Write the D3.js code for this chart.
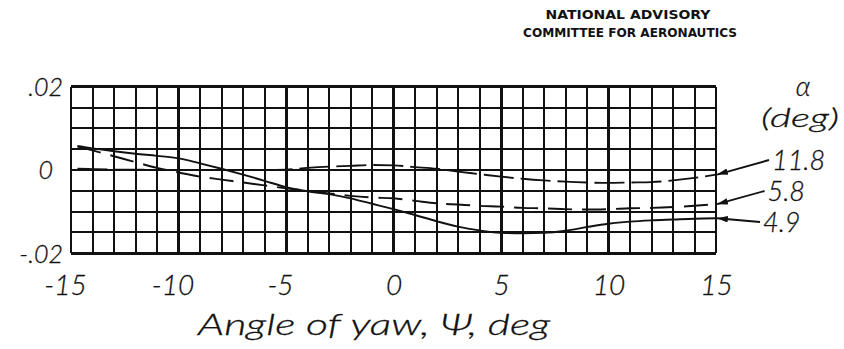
<!DOCTYPE html>
<html>
<head>
<meta charset="utf-8">
<script src="https://cdn.jsdelivr.net/npm/d3@7"></script>
<style>
  html, body { margin: 0; padding: 0; background: #fff; }
  svg { display: block; }
  .hand { font-family: Lato, "Open Sans", "DejaVu Sans", sans-serif; font-style: italic; font-weight: 300;
          fill: #111; stroke: #111; stroke-width: 0.3px; }
  .stamp { font-family: "DejaVu Sans", sans-serif; font-weight: bold; fill: #111; }
</style>
</head>
<body>
<svg id="chart" width="844" height="349"></svg>
<script>
// Yawing-moment-type coefficient against angle of yaw, for three angles of attack
const yawAngles = [-14.7, -14, -13, -12, -11, -10, -9, -8, -7, -6, -5, -4, -3, -2, -1, 0,
                   1, 2, 3, 4, 5, 6, 7, 8, 9, 10, 11, 12, 13, 14, 15];

const alphaLabels = ["11.8", "5.8", "4.9"];

const coefAlpha11_8 = [0.0003, 0.0002, 0.0001, 0.0001, 0.0000, 0.0000, 0.0000, 0.0000, 0.0000, 0.0000, 0.0001,
                       0.0005, 0.0008, 0.0010, 0.0012, 0.0011, 0.0007, 0.0003, -0.0004, -0.0010, -0.0016,
                       -0.0021, -0.0025, -0.0028, -0.0030, -0.0031, -0.0030, -0.0029, -0.0025, -0.0019, -0.0011];

const coefAlpha5_8 = [0.0056, 0.0047, 0.0033, 0.0019, 0.0005, -0.0006, -0.0016, -0.0023, -0.0030, -0.0037, -0.0044,
                      -0.0050, -0.0056, -0.0062, -0.0066, -0.0068, -0.0074, -0.0080, -0.0083, -0.0086, -0.0088,
                      -0.0091, -0.0092, -0.0094, -0.0095, -0.0094, -0.0092, -0.0091, -0.0089, -0.0086, -0.0082];

const coefAlpha4_9 = [0.0058, 0.0052, 0.0045, 0.0039, 0.0034, 0.0028, 0.0016, 0.0003, -0.0011, -0.0026, -0.0041,
                      -0.0051, -0.0058, -0.0068, -0.0081, -0.0094, -0.0108, -0.0123, -0.0136, -0.0145, -0.0151,
                      -0.0152, -0.0151, -0.0146, -0.0137, -0.0129, -0.0124, -0.0121, -0.0119, -0.0117, -0.0116];

const xTickValues = [-15, -10, -5, 0, 5, 10, 15];
const xTickLabels = ["-15", "-10", "-5", "0", "5", "10", "15"];
const yTickValues = [0.02, 0, -0.02];
const yTickLabels = [".02", "0", "-.02"];

const xTitle = "Angle of yaw, \u03A8, deg";
const legendTitle = ["\u03B1", "(deg)"];
const stampLines = ["NATIONAL ADVISORY", "COMMITTEE FOR AERONAUTICS"];

const svg = d3.select("#chart");
const plot = { left: 71, right: 716, top: 86.7, bottom: 253.3 };

const x = d3.scaleLinear().domain([-15, 15]).range([plot.left, plot.right]);
const y = d3.scaleLinear().domain([-0.02, 0.02]).range([plot.bottom, plot.top]);

// Graph-paper grid: one line per degree, one per 0.005; heavier every 5 degrees
const grid = svg.append("g").attr("stroke", "#111").attr("shape-rendering", "crispEdges");
grid.selectAll("line.v").data(d3.range(-15, 16)).join("line")
  .attr("class", "v")
  .attr("x1", d => x(d)).attr("x2", d => x(d))
  .attr("y1", plot.top).attr("y2", plot.bottom)
  .attr("stroke-width", d => (Math.abs(d) === 15 ? 2.5 : d % 5 === 0 ? 3 : 2));
grid.selectAll("line.h").data(d3.range(-4, 5).map(i => i * 0.005)).join("line")
  .attr("class", "h")
  .attr("x1", plot.left).attr("x2", plot.right)
  .attr("y1", d => y(d)).attr("y2", d => y(d))
  .attr("stroke-width", d => (Math.abs(d) > 0.019 ? 2.5 : 2));

// Curves
const series = [
  { label: alphaLabels[0], values: coefAlpha11_8, dash: "30,7" },
  { label: alphaLabels[1], values: coefAlpha5_8, dash: "24,10" },
  { label: alphaLabels[2], values: coefAlpha4_9, dash: null }
];
const line = d3.line().x(d => x(d[0])).y(d => y(d[1])).curve(d3.curveMonotoneX);
svg.append("g").selectAll("path").data(series).join("path")
  .attr("d", s => line(yawAngles.map((a, i) => [a, s.values[i]])))
  .attr("fill", "none")
  .attr("stroke", "#111")
  .attr("stroke-width", 1.9)
  .attr("stroke-dasharray", s => s.dash);

// Axes
const xAxis = svg.append("g")
  .attr("transform", `translate(0,${plot.bottom})`)
  .call(d3.axisBottom(x).tickValues(xTickValues).tickSize(0).tickPadding(0)
    .tickFormat((d, i) => xTickLabels[i]));
xAxis.select(".domain").remove();
xAxis.selectAll("text")
  .attr("class", "hand")
  .attr("y", 42).attr("dy", 0)
  .attr("dx", d => (d < 0 ? -6 : 0))
  .style("font-size", "28px");

const yAxis = svg.append("g")
  .attr("transform", `translate(${plot.left},0)`)
  .call(d3.axisLeft(y).tickValues(yTickValues).tickSize(0).tickPadding(0)
    .tickFormat((d, i) => yTickLabels[i]));
yAxis.select(".domain").remove();
yAxis.selectAll("text")
  .attr("class", "hand")
  .attr("x", d => (d === 0 ? -18 : -8))
  .attr("dy", "0.35em")
  .style("font-size", "25px");

svg.append("text").attr("class", "hand")
  .attr("x", 374).attr("y", 335)
  .attr("text-anchor", "middle")
  .attr("textLength", 352)
  .attr("lengthAdjust", "spacingAndGlyphs")
  .style("font-size", "29px")
  .text(xTitle);

// Legend: alpha heading and arrowed labels pointing at curve ends
svg.append("text").attr("class", "hand")
  .attr("x", 803).attr("y", 96).attr("text-anchor", "middle")
  .style("font-size", "27px").text(legendTitle[0]);
svg.append("text").attr("class", "hand")
  .attr("x", 800).attr("y", 127).attr("text-anchor", "middle")
  .attr("textLength", 78)
  .attr("lengthAdjust", "spacingAndGlyphs")
  .style("font-size", "26px").text(legendTitle[1]);

const defs = svg.append("defs");
defs.append("marker").attr("id", "head")
  .attr("viewBox", "0 0 10 6").attr("refX", 10).attr("refY", 3)
  .attr("markerWidth", 11).attr("markerHeight", 6.5)
  .attr("markerUnits", "userSpaceOnUse").attr("orient", "auto")
  .append("path").attr("d", "M0,0 L10,3 L0,6 Z").attr("fill", "#111");

const legend = svg.append("g");
series.forEach((s, i) => {
  const tx = 772 - i * 4.5;
  const ty = 170 + i * 31;
  const endY = y(s.values[s.values.length - 1]);
  legend.append("line")
    .attr("x1", tx - 3).attr("y1", ty - 10)
    .attr("x2", x(15) + 1).attr("y2", endY)
    .attr("stroke", "#111").attr("stroke-width", 1.9)
    .attr("marker-end", "url(#head)");
  legend.append("text").attr("class", "hand")
    .attr("x", tx).attr("y", ty)
    .style("font-size", "27px")
    .text(s.label);
});

// Agency stamp
svg.selectAll("text.stamp").data(stampLines).join("text")
  .attr("class", "stamp")
  .attr("x", (d, i) => (i === 0 ? 628 : 630))
  .attr("y", (d, i) => 19 + i * 18)
  .attr("text-anchor", "middle")
  .attr("textLength", (d, i) => (i === 0 ? 165 : 214))
  .attr("lengthAdjust", "spacingAndGlyphs")
  .style("font-size", "13px")
  .text(d => d);
</script>
</body>
</html>
